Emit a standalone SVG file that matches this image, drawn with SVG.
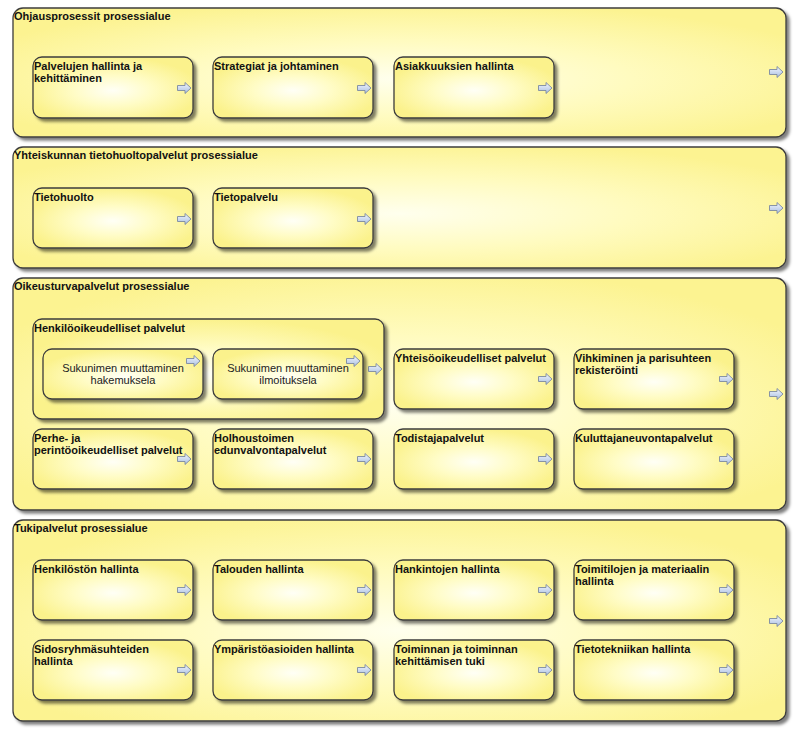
<svg xmlns="http://www.w3.org/2000/svg" xmlns:xlink="http://www.w3.org/1999/xlink" width="800" height="730" viewBox="0 0 800 730">
<defs>
<radialGradient id="gy" cx="0.5" cy="0.55" r="0.55">
<stop offset="0" stop-color="#fffff6"/>
<stop offset="0.45" stop-color="#fffcc6"/>
<stop offset="1" stop-color="#fbf28c"/>
</radialGradient>
<radialGradient id="gc" cx="0.5" cy="0.55" r="0.6">
<stop offset="0" stop-color="#ffffee"/>
<stop offset="0.5" stop-color="#fffbbf"/>
<stop offset="1" stop-color="#fcf391"/>
</radialGradient>
<linearGradient id="ga" x1="0" y1="0" x2="0" y2="1">
<stop offset="0" stop-color="#f2f6fd"/>
<stop offset="1" stop-color="#a9bfe2"/>
</linearGradient>
<filter id="sh" x="-5%" y="-5%" width="115%" height="120%">
<feDropShadow dx="3" dy="3" stdDeviation="1.6" flood-color="#000" flood-opacity="0.5"/>
</filter>
<path id="arr" d="M0.5,-2.5 H8 V-5.5 L14,0 L8,5.5 V2.5 H0.5 Z"/>
</defs>
<style>
.c{fill:url(#gc);stroke:#3c3c3c;stroke-width:1.3;filter:url(#sh)}
.n{fill:url(#gy);stroke:#3c3c3c;stroke-width:1.3;filter:url(#sh)}
.t{font-family:"Liberation Sans",Arial,sans-serif;font-size:11px;font-weight:bold;fill:#111}
.s{font-family:"Liberation Sans",Arial,sans-serif;font-size:11px;fill:#222;text-anchor:middle}
.a{fill:url(#ga);stroke:#7d8aa0;stroke-width:0.9}
</style>
<rect width="800" height="730" fill="#fff"/>

<g id="ohjaus">
<rect class="c" x="13" y="8" width="773" height="129" rx="10"/>
<text class="t" x="14" y="20">Ohjausprosessit prosessialue</text>
<use href="#arr" class="a" x="769" y="72"/>
</g>
<g id="palvelujen">
<rect class="n" x="33" y="57" width="160" height="61" rx="9"/>
<text class="t" x="34" y="70">Palvelujen hallinta ja</text>
<text class="t" x="34" y="82">kehittäminen</text>
<use href="#arr" class="a" x="177" y="88"/>
</g>
<g id="strategiat">
<rect class="n" x="213" y="57" width="160" height="61" rx="9"/>
<text class="t" x="214" y="70">Strategiat ja johtaminen</text>
<use href="#arr" class="a" x="357" y="88"/>
</g>
<g id="asiakkuuksien">
<rect class="n" x="394" y="57" width="160" height="61" rx="9"/>
<text class="t" x="395" y="70">Asiakkuuksien hallinta</text>
<use href="#arr" class="a" x="538" y="88"/>
</g>

<g id="yhteiskunnan">
<rect class="c" x="13" y="147" width="773" height="121" rx="10"/>
<text class="t" x="14" y="159">Yhteiskunnan tietohuoltopalvelut prosessialue</text>
<use href="#arr" class="a" x="769" y="208"/>
</g>
<g id="tietohuolto">
<rect class="n" x="33" y="188" width="160" height="60" rx="9"/>
<text class="t" x="34" y="201">Tietohuolto</text>
<use href="#arr" class="a" x="177" y="219"/>
</g>
<g id="tietopalvelu">
<rect class="n" x="213" y="188" width="160" height="60" rx="9"/>
<text class="t" x="214" y="201">Tietopalvelu</text>
<use href="#arr" class="a" x="357" y="219"/>
</g>

<g id="oikeusturva">
<rect class="c" x="13" y="278" width="773" height="232" rx="10"/>
<text class="t" x="14" y="290">Oikeusturvapalvelut prosessialue</text>
<use href="#arr" class="a" x="769" y="394"/>
</g>
<g id="henkilooikeudelliset">
<rect class="n" x="33" y="319" width="351" height="100" rx="9"/>
<text class="t" x="34" y="332">Henkilöoikeudelliset palvelut</text>
<use href="#arr" class="a" x="368" y="369"/>
</g>
<g id="sukunimi-hakemus">
<rect class="n" x="43" y="349" width="160" height="50" rx="9"/>
<text class="s" x="123" y="372">Sukunimen muuttaminen</text>
<text class="s" x="123" y="384">hakemuksela</text>
<use href="#arr" class="a" x="186" y="361"/>
</g>
<g id="sukunimi-ilmoitus">
<rect class="n" x="213" y="349" width="150" height="50" rx="9"/>
<text class="s" x="288" y="372">Sukunimen muuttaminen</text>
<text class="s" x="288" y="384">ilmoituksela</text>
<use href="#arr" class="a" x="346" y="361"/>
</g>
<g id="yhteisooikeudelliset">
<rect class="n" x="394" y="349" width="160" height="60" rx="9"/>
<text class="t" x="395" y="362">Yhteisöoikeudelliset palvelut</text>
<use href="#arr" class="a" x="538" y="379"/>
</g>
<g id="vihkiminen">
<rect class="n" x="574" y="349" width="160" height="60" rx="9"/>
<text class="t" x="575" y="362">Vihkiminen ja parisuhteen</text>
<text class="t" x="575" y="374">rekisteröinti</text>
<use href="#arr" class="a" x="719" y="379"/>
</g>
<g id="perhe">
<rect class="n" x="33" y="429" width="160" height="60" rx="9"/>
<text class="t" x="34" y="442">Perhe- ja</text>
<text class="t" x="34" y="454">perintöoikeudelliset palvelut</text>
<use href="#arr" class="a" x="177" y="459"/>
</g>
<g id="holhoustoimen">
<rect class="n" x="213" y="429" width="160" height="60" rx="9"/>
<text class="t" x="214" y="442">Holhoustoimen</text>
<text class="t" x="214" y="454">edunvalvontapalvelut</text>
<use href="#arr" class="a" x="357" y="459"/>
</g>
<g id="todistaja">
<rect class="n" x="394" y="429" width="160" height="60" rx="9"/>
<text class="t" x="395" y="442">Todistajapalvelut</text>
<use href="#arr" class="a" x="538" y="459"/>
</g>
<g id="kuluttaja">
<rect class="n" x="574" y="429" width="160" height="60" rx="9"/>
<text class="t" x="575" y="442">Kuluttajaneuvontapalvelut</text>
<use href="#arr" class="a" x="719" y="459"/>
</g>

<g id="tuki">
<rect class="c" x="13" y="520" width="773" height="201" rx="10"/>
<text class="t" x="14" y="532">Tukipalvelut prosessialue</text>
<use href="#arr" class="a" x="769" y="621"/>
</g>
<g id="henkilosto">
<rect class="n" x="33" y="560" width="160" height="60" rx="9"/>
<text class="t" x="34" y="573">Henkilöstön hallinta</text>
<use href="#arr" class="a" x="177" y="590"/>
</g>
<g id="talous">
<rect class="n" x="213" y="560" width="160" height="60" rx="9"/>
<text class="t" x="214" y="573">Talouden hallinta</text>
<use href="#arr" class="a" x="357" y="590"/>
</g>
<g id="hankinnat">
<rect class="n" x="394" y="560" width="160" height="60" rx="9"/>
<text class="t" x="395" y="573">Hankintojen hallinta</text>
<use href="#arr" class="a" x="538" y="590"/>
</g>
<g id="toimitilat">
<rect class="n" x="574" y="560" width="160" height="60" rx="9"/>
<text class="t" x="575" y="573">Toimitilojen ja materiaalin</text>
<text class="t" x="575" y="585">hallinta</text>
<use href="#arr" class="a" x="719" y="590"/>
</g>
<g id="sidosryhmat">
<rect class="n" x="33" y="640" width="160" height="60" rx="9"/>
<text class="t" x="34" y="653">Sidosryhmäsuhteiden</text>
<text class="t" x="34" y="665">hallinta</text>
<use href="#arr" class="a" x="177" y="670"/>
</g>
<g id="ymparisto">
<rect class="n" x="213" y="640" width="160" height="60" rx="9"/>
<text class="t" x="214" y="653">Ympäristöasioiden hallinta</text>
<use href="#arr" class="a" x="357" y="670"/>
</g>
<g id="toiminnan-tuki">
<rect class="n" x="394" y="640" width="160" height="60" rx="9"/>
<text class="t" x="395" y="653">Toiminnan ja toiminnan</text>
<text class="t" x="395" y="665">kehittämisen tuki</text>
<use href="#arr" class="a" x="538" y="670"/>
</g>
<g id="tietotekniikka">
<rect class="n" x="574" y="640" width="160" height="60" rx="9"/>
<text class="t" x="575" y="653">Tietotekniikan hallinta</text>
<use href="#arr" class="a" x="719" y="670"/>
</g>
<g id="connectors"></g>
</svg>
